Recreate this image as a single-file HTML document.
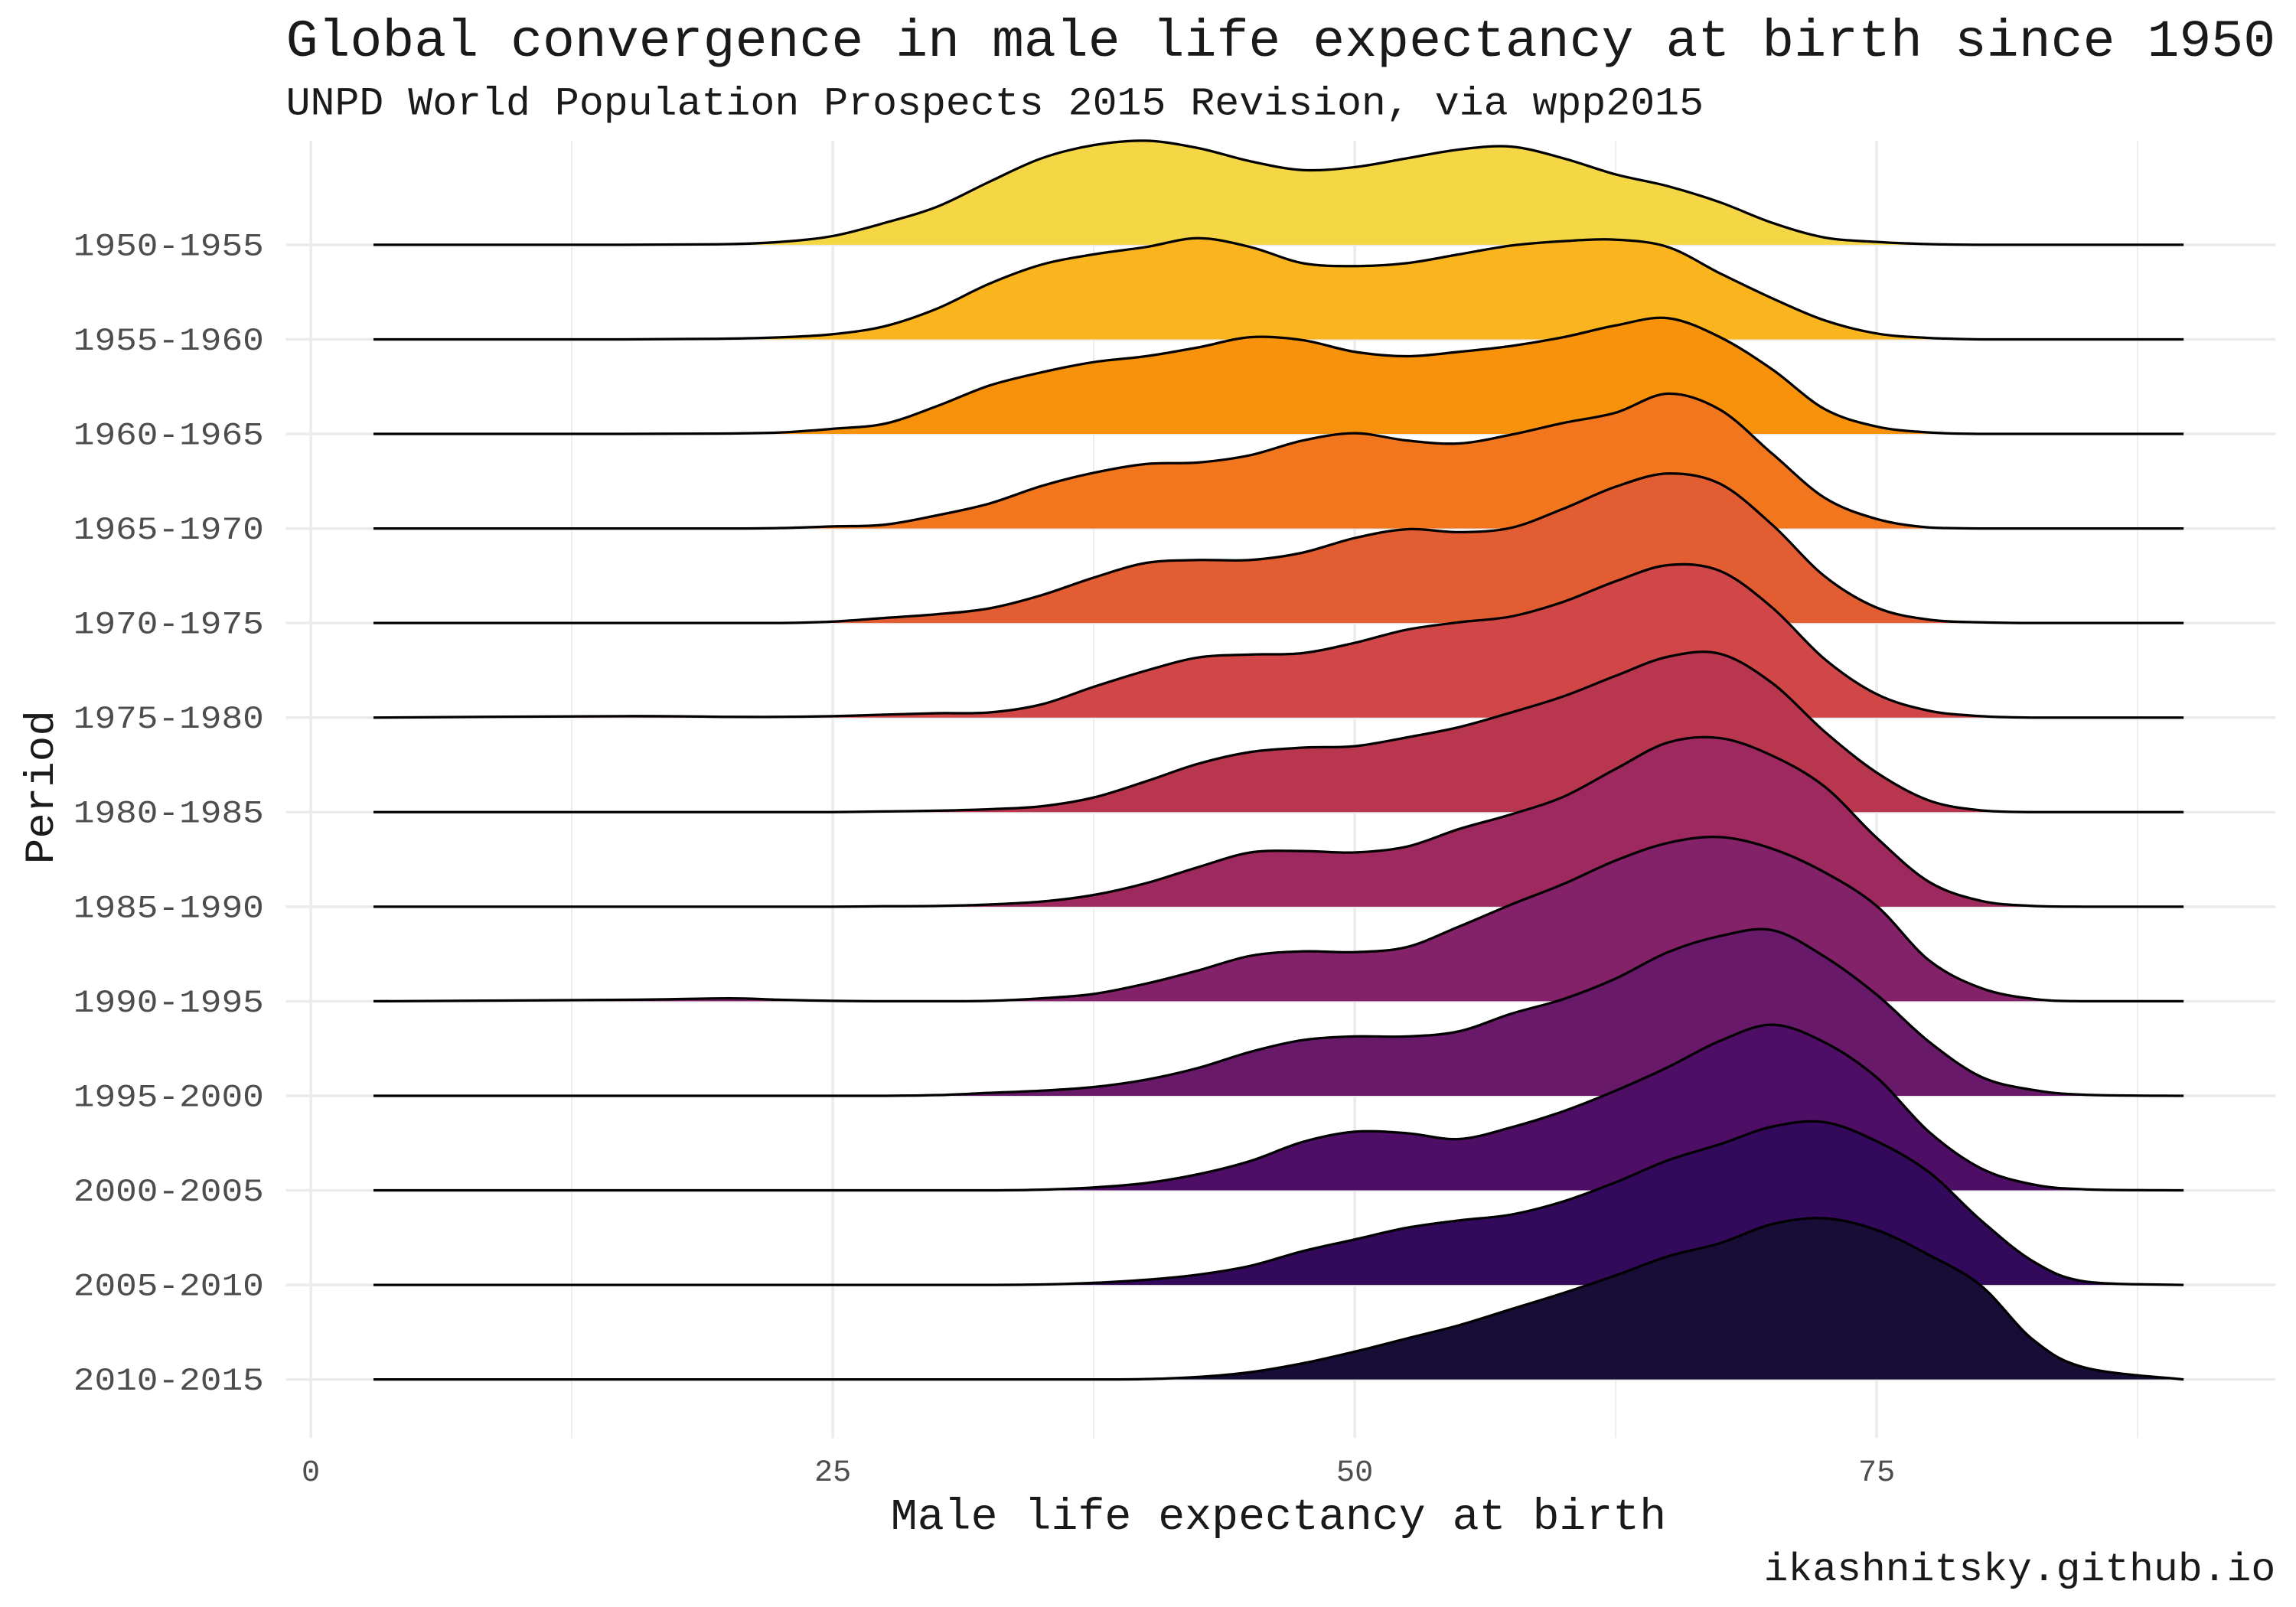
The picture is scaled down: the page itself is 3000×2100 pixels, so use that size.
<!DOCTYPE html>
<html>
<head>
<meta charset="utf-8">
<style>
  html,body{margin:0;padding:0;background:#fff;}
  svg{display:block;}
  text{font-family:"Liberation Mono","DejaVu Sans Mono",monospace;}
</style>
</head>
<body>
<svg id="chart" xmlns="http://www.w3.org/2000/svg" width="3000" height="2100" viewBox="0 0 1566 1096.2" preserveAspectRatio="xMinYMin meet">
  <rect x="0" y="0" width="1566" height="1096.2" fill="#ffffff"/>
  <g id="grid"></g>
  <g id="ridges"></g>
  <g id="axes"></g>
  <text x="195" y="38" font-size="36" fill="#1a1a1a" textLength="1357" lengthAdjust="spacingAndGlyphs">Global convergence in male life expectancy at birth since 1950</text>
  <text x="195" y="78" font-size="27" fill="#1a1a1a" textLength="967" lengthAdjust="spacingAndGlyphs">UNPD World Population Prospects 2015 Revision, via wpp2015</text>
  <text x="872" y="1043" font-size="30" fill="#1a1a1a" text-anchor="middle" textLength="529" lengthAdjust="spacingAndGlyphs">Male life expectancy at birth</text>
  <text x="1552" y="1078" font-size="27" fill="#1a1a1a" text-anchor="end" textLength="349" lengthAdjust="spacingAndGlyphs">ikashnitsky.github.io</text>
  <text x="0" y="0" font-size="28" fill="#1a1a1a" text-anchor="middle" transform="translate(36,537) rotate(-90)" textLength="105" lengthAdjust="spacingAndGlyphs">Period</text>
</svg>
<script>
const periods = ["1950-1955","1955-1960","1960-1965","1965-1970","1970-1975","1975-1980","1980-1985","1985-1990","1990-1995","1995-2000","2000-2005","2005-2010","2010-2015"];
const xs = [3,15,20,22.5,25,27.5,30,32.5,35,37.5,40,42.5,45,47.5,50,52.5,55,57.5,60,62.5,65,67.5,70,72.5,75,77.5,80,82.5,85,89.7];
const xTicks = [0,25,50,75];
const xMinor = [12.5,37.5,62.5,87.5];
const d1950 = [0,0,0.5,2,6,15,26,43,59,68,71,66,57,51,53,59,65,67,59,48,40,29,15,5,2,0.5,0,0,0,0];
const d1955 = [0,0,0.5,1.4,3.5,9,21,38,51,58,63,69,63,52,50,52,58,64,67,68,63,45,28,13,4,1,0,0,0,0];
const d1960 = [0,0,0.3,1,3.5,7,19,33,42,49,53,59,66,64,56,53,56,60,66,74,79,66,44,17,5,1,0,0,0,0];
const d1965 = [0,0,0,0.3,1.4,2.6,9,17,29,38,44,45,50,60,65,60,58,64,72,79,92,81,51,21,6.5,0.7,0,0,0,0];
const d1970 = [0,0,0,0,1,3.5,6,10,19,31,41,43,43,48,58,64,62,65,78,93,102,95,67,32,10.5,2.3,0.5,0,0,0];
const d1975 = [0,1,0.5,0.5,1,2,3,3.5,9,21,32,41,43,44,51,60,65,69,79,93,104,100,75,40,16,4.7,1,0,0,0];
const d1980 = [0,0,0,0,0,0.5,1,2,4,10,21,33,41,44,45,51,58,68,79,93,106,108,88,55,27,8,1.2,0,0,0];
const d1985 = [0,0,0,0,0,0.3,0.5,1.5,3.5,8,16,27,37,38,37,41,53,63,75,94,112,115,103,82,47,17,4,0.5,0,0];
const d1990 = [0,1,2,1,0.3,0,0,0.3,2,5,12,21,31,34,33.5,37,51,66,80,96,108,112,104,88,65,28,9,1.6,0,0];
const d1995 = [0,0,0,0,0,0,0.5,2,3.5,6,11,19,30,38,40.5,40.5,44,56,66,80,98,109,113,95,69,37,13,4,0.7,0];
const d2000 = [0,0,0,0,0,0,0,0,0.5,2,5,11,20,33,40,39,35,43,54,68,84,102,113,101,77,40,15,4,0.7,0];
const d2005 = [0,0,0,0,0,0,0,0,0.3,1.4,3.5,7,13,23,31,39,44,48,57,70,85,96,108,111,98,77,44,16,2.3,0];
const d2010 = [0,0,0,0,0,0,0,0,0,0,0.3,1.7,5,11,19,28,37,48,59,71,84,93,106,110,102,85,64,27,8,0];
const densities = [d1950,d1955,d1960,d1965,d1970,d1975,d1980,d1985,d1990,d1995,d2000,d2005,d2010];
const fills = ["#F5D746","#FAB51E","#F9920B","#F1761E","#E35D32","#D14747","#B9364F","#9E295F","#832169","#69196A","#4F0E65","#330A5B","#170D36"];

const NS = "http://www.w3.org/2000/svg";
const xScale = v => 212 + 14.24 * v;
const rowY = i => 167 + i * 64.5;
const hScale = 1.0;

function mk(tag, attrs, parent) {
  const el = document.createElementNS(NS, tag);
  for (const k in attrs) el.setAttribute(k, attrs[k]);
  parent.appendChild(el);
  return el;
}

const grid = document.getElementById('grid');
const ridges = document.getElementById('ridges');
const axes = document.getElementById('axes');

xMinor.forEach(v => {
  const l = mk('line', {x1: xScale(v), x2: xScale(v), y1: 96, y2: 981, stroke: '#EBEBEB', 'stroke-width': 0.9}, grid);
  
  
});
xTicks.forEach(v => {
  const l = mk('line', {x1: xScale(v), x2: xScale(v), y1: 96, y2: 981, stroke: '#EBEBEB', 'stroke-width': 1.8}, grid);
  
  
  const t = mk('text', {x: xScale(v), y: 1010, 'font-size': 21, fill: '#4D4D4D', 'text-anchor': 'middle'}, axes);
  t.textContent = String(v);
  
  
});
periods.forEach((p, i) => {
  const l = mk('line', {x1: 195, x2: 1552, y1: rowY(i), y2: rowY(i), stroke: '#EBEBEB', 'stroke-width': 1.8}, grid);
  
  
  const t = mk('text', {x: 180, y: rowY(i) + 7, 'font-size': 22, fill: '#4D4D4D', 'text-anchor': 'end', textLength: 130, lengthAdjust: 'spacingAndGlyphs'}, axes);
  t.textContent = p;
  
  
});

function curvePath(vals, base) {
  const pts = xs.map((x, k) => [xScale(x), base - Math.max(0, vals[k]) * hScale]);
  let d = 'M' + pts[0][0] + ',' + pts[0][1];
  for (let k = 0; k < pts.length - 1; k++) {
    const p0 = pts[Math.max(0, k - 1)], p1 = pts[k], p2 = pts[k + 1], p3 = pts[Math.min(pts.length - 1, k + 2)];
    const t = 1 / 6;
    let c1x = p1[0] + (p2[0] - p0[0]) * t, c1y = p1[1] + (p2[1] - p0[1]) * t;
    let c2x = p2[0] - (p3[0] - p1[0]) * t, c2y = p2[1] - (p3[1] - p1[1]) * t;
    c1y = Math.min(c1y, base); c2y = Math.min(c2y, base);
    d += ' C' + c1x.toFixed(2) + ',' + c1y.toFixed(2) + ' ' + c2x.toFixed(2) + ',' + c2y.toFixed(2) + ' ' + p2[0].toFixed(2) + ',' + p2[1].toFixed(2);
  }
  return d;
}

densities.forEach((vals, i) => {
  const base = rowY(i);
  const line = curvePath(vals, base);
  const g = mk('g', {}, ridges);
  
  
  const area = mk('path', {d: line + ' L' + xScale(xs[xs.length - 1]) + ',' + base + ' L' + xScale(xs[0]) + ',' + base + ' Z', fill: fills[i], stroke: 'none'}, g);
  
  
  const stroke = mk('path', {d: line, fill: 'none', stroke: '#000000', 'stroke-width': 1.7, 'stroke-linejoin': 'round'}, g);
  
  
});
</script>
</body>
</html>
